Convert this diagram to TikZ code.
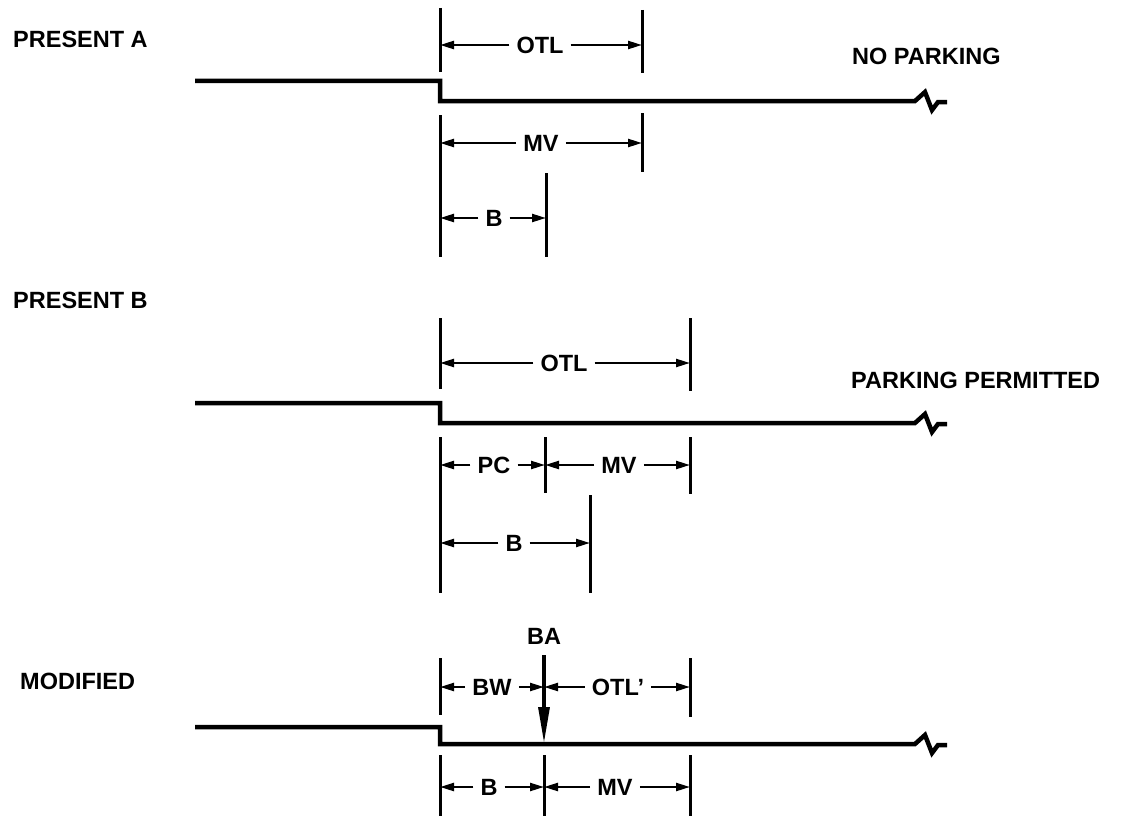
\documentclass[tikz,border=0pt]{standalone}
\usepackage{fontspec}
\setmainfont{Liberation Sans}
\usetikzlibrary{arrows.meta}
\begin{document}
\begin{tikzpicture}[x=1pt,y=-1pt,
  lbl/.style={font=\bfseries\fontsize{23.5}{28}\selectfont, inner sep=0pt, text height=17pt, text depth=0pt},
  dlbl/.style={lbl, inner xsep=7pt},
  road/.style={line width=4.5pt, line join=miter},
  tickln/.style={line width=3pt},
  dim/.style={line width=2.3pt, -{Triangle[length=14pt,width=8pt]}},
  baarrow/.style={line width=3.2pt, -{Triangle[length=36pt,width=11pt]}}]
\useasboundingbox (0,0) rectangle (1125,816);

% ---------------- PRESENT A ----------------
\node[lbl, anchor=west] (tA) at (13,39) {PRESENT A};
\node[lbl, anchor=west] (npA) at (852,56) {NO PARKING};
\draw[road] (195,81) -- (440,81) -- (440,101) -- (915,101)
  -- ++(10,-9) -- ++(7,18) -- ++(6,-8) -- ++(9,0);
\coordinate (a1t) at (440,8);   \coordinate (a1b) at (440,72);
\coordinate (a2t) at (642,10);  \coordinate (a2b) at (642,73);
\draw[tickln] (a1t) -- (a1b);
\draw[tickln] (a2t) -- (a2b);
\node[dlbl] (aOTL) at (540,45) {OTL};
\draw[dim] (aOTL.west) -- (aOTL.west -| a1t);
\draw[dim] (aOTL.east) -- (aOTL.east -| a2t);
\coordinate (a3t) at (440,115); \coordinate (a3b) at (440,257);
\coordinate (a4t) at (642,113); \coordinate (a4b) at (642,172);
\coordinate (a5t) at (546,173); \coordinate (a5b) at (546,257);
\draw[tickln] (a3t) -- (a3b);
\draw[tickln] (a4t) -- (a4b);
\draw[tickln] (a5t) -- (a5b);
\node[dlbl] (aMV) at (541,143) {MV};
\draw[dim] (aMV.west) -- (aMV.west -| a3t);
\draw[dim] (aMV.east) -- (aMV.east -| a4t);
\node[dlbl] (aB) at (494,218) {B};
\draw[dim] (aB.west) -- (aB.west -| a3t);
\draw[dim] (aB.east) -- (aB.east -| a5t);

% ---------------- PRESENT B ----------------
\node[lbl, anchor=west] (tB) at (13,300) {PRESENT B};
\node[lbl, anchor=west] (ppB) at (851,380) {PARKING PERMITTED};
\draw[road] (195,403) -- (440,403) -- (440,423) -- (915,423)
  -- ++(10,-9) -- ++(7,18) -- ++(6,-8) -- ++(9,0);
\coordinate (b1t) at (440,318); \coordinate (b1b) at (440,389);
\coordinate (b2t) at (690,318); \coordinate (b2b) at (690,391);
\draw[tickln] (b1t) -- (b1b);
\draw[tickln] (b2t) -- (b2b);
\node[dlbl] (bOTL) at (564,363) {OTL};
\draw[dim] (bOTL.west) -- (bOTL.west -| b1t);
\draw[dim] (bOTL.east) -- (bOTL.east -| b2t);
\coordinate (b3t) at (440,437); \coordinate (b3b) at (440,593);
\coordinate (b4t) at (545,437); \coordinate (b4b) at (545,493);
\coordinate (b5t) at (690,437); \coordinate (b5b) at (690,494);
\coordinate (b6t) at (590,495); \coordinate (b6b) at (590,593);
\draw[tickln] (b3t) -- (b3b);
\draw[tickln] (b4t) -- (b4b);
\draw[tickln] (b5t) -- (b5b);
\draw[tickln] (b6t) -- (b6b);
\node[dlbl] (bPC) at (494,465) {PC};
\draw[dim] (bPC.west) -- (bPC.west -| b3t);
\draw[dim] (bPC.east) -- (bPC.east -| b4t);
\node[dlbl] (bMV) at (619,465) {MV};
\draw[dim] (bMV.west) -- (bMV.west -| b4t);
\draw[dim] (bMV.east) -- (bMV.east -| b5t);
\node[dlbl] (bB) at (514,543) {B};
\draw[dim] (bB.west) -- (bB.west -| b3t);
\draw[dim] (bB.east) -- (bB.east -| b6t);

% ---------------- MODIFIED ----------------
\node[lbl, anchor=west] (tC) at (20,681) {MODIFIED};
\draw[road] (195,727) -- (440,727) -- (440,744) -- (915,744)
  -- ++(10,-9) -- ++(7,18) -- ++(6,-8) -- ++(9,0);
\coordinate (c1t) at (440,658); \coordinate (c1b) at (440,715);
\coordinate (c2t) at (690,658); \coordinate (c2b) at (690,717);
\draw[tickln] (c1t) -- (c1b);
\draw[tickln] (c2t) -- (c2b);
\node[lbl] (cBA) at (544,636) {BA};
\coordinate (cBAs) at (544,655); \coordinate (cBAe) at (544,743);
\draw[baarrow] (cBAs) -- (cBAe);
\node[dlbl] (cBW) at (492,687) {BW};
\draw[dim] (cBW.west) -- (cBW.west -| c1t);
\draw[dim] (cBW.east) -- (cBW.east -| cBAs);
\node[dlbl] (cOTL) at (618,687) {OTL'};
\draw[dim] (cOTL.west) -- (cOTL.west -| cBAs);
\draw[dim] (cOTL.east) -- (cOTL.east -| c2t);
\coordinate (c3t) at (440,755); \coordinate (c3b) at (440,816);
\coordinate (c4t) at (544,755); \coordinate (c4b) at (544,816);
\coordinate (c5t) at (690,755); \coordinate (c5b) at (690,816);
\draw[tickln] (c3t) -- (c3b);
\draw[tickln] (c4t) -- (c4b);
\draw[tickln] (c5t) -- (c5b);
\node[dlbl] (cB) at (489,787) {B};
\draw[dim] (cB.west) -- (cB.west -| c3t);
\draw[dim] (cB.east) -- (cB.east -| c4t);
\node[dlbl] (cMV) at (615,787) {MV};
\draw[dim] (cMV.west) -- (cMV.west -| c4t);
\draw[dim] (cMV.east) -- (cMV.east -| c5t);
\end{tikzpicture}
\end{document}
